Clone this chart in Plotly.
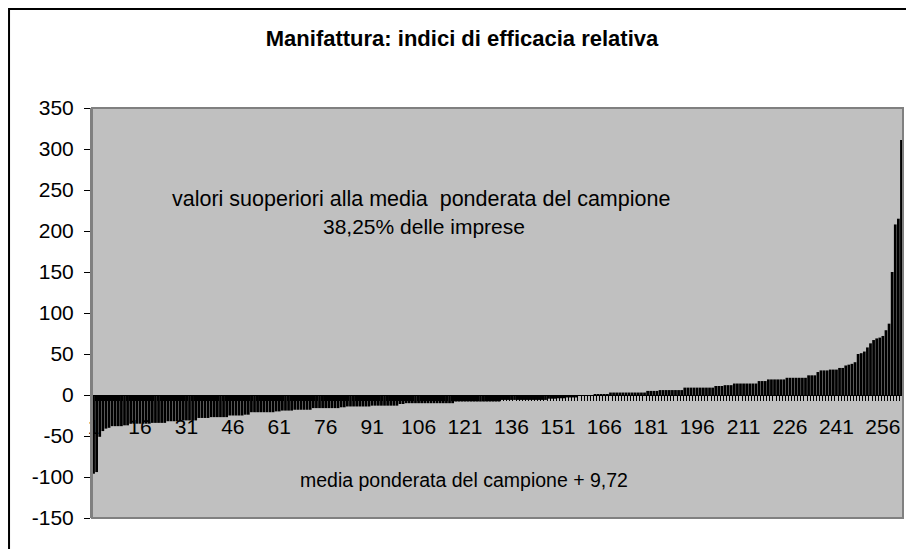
import plotly.graph_objects as go

# Indici di efficacia relativa, imprese ordinate in modo crescente (262 imprese)
valori = [
    -96, -94, -51, -44, -41, -40, -38, -38, -38, -38, -37, -37,
    -35, -35, -35, -35, -35, -35, -35, -34, -34, -34, -34, -34,
    -32, -32, -32, -32, -32, -31, -31, -31, -31, -31,
    -28, -28, -28, -28, -27, -27, -27, -27, -27, -27,
    -25, -25, -25, -25, -25, -24, -24,
    -21, -21, -21, -21, -21, -21, -21, -21, -20, -20,
    -19, -19, -19, -19, -18, -18, -18, -18, -18, -18,
    -16, -16, -16, -16, -16, -16, -16, -16, -16, -15, -15,
    -14, -14, -14, -14, -14, -14, -14, -14, -13, -13, -13, -13, -13, -13, -13, -13, -13,
    -11, -11, -10, -10, -10, -10, -10, -10, -10, -10, -10, -10, -10, -10, -10, -10, -10, -10,
    -8, -8, -8, -8, -8, -8, -8, -8, -8, -8, -8, -8, -8, -8, -8,
    -6, -6, -6, -6, -6, -6, -6, -6, -6, -6, -6, -6, -6, -6, -6,
    -4.5, -4.5, -4.5, -4, -4, -4,
    -3, -3, -3, -3,
    -0.5, -0.4, -0.3, -0.2, -0.1, 0.1, 0.2, 0.3, 0.5, 0.8,
    3, 3, 3, 3, 3, 3, 3, 3, 3, 3, 3, 3,
    5, 5, 5, 5,
    6, 6, 6, 6, 6, 6, 6, 6,
    9, 9, 9, 9, 9, 9, 9, 9, 9, 9,
    11, 11, 11, 12, 12, 12,
    14, 14, 14, 14, 14, 14, 14, 14,
    17, 17, 17,
    19, 19, 19, 19, 19, 19,
    21, 21, 21, 21, 21, 21, 21,
    24, 24, 24,
    28,
    30, 30, 30, 31, 31, 31,
    33, 33,
    36, 37, 38, 40, 50, 51, 53, 58, 63, 67, 69, 70, 72, 79, 87,
    150, 208, 215, 311,
]
imprese = list(range(1, len(valori) + 1))

y_tick_vals = [-150, -100, -50, 0, 50, 100, 150, 200, 250, 300, 350]
y_tick_text = ["-150", "-100", "-50", "0", "50", "100", "150", "200", "250", "300", "350"]

titolo = "Manifattura: indici di efficacia relativa"
nota_sopra_1 = "valori suoperiori alla media  ponderata del campione"
nota_sopra_2 = "38,25% delle imprese"
nota_sotto = "media ponderata del campione + 9,72"

FONT = "Liberation Sans, Arial, sans-serif"

fig = go.Figure()

fig.add_trace(go.Bar(
    x=imprese, y=valori,
    marker=dict(color="black", line=dict(width=0)),
    showlegend=False,
))

# annotazioni nel grafico
fig.add_annotation(x=0.406, y=239, xref="paper", yref="y", text=nota_sopra_1,
                   showarrow=False, font=dict(size=21.5, color="black", family=FONT))
fig.add_annotation(x=0.409, y=206, xref="paper", yref="y", text=nota_sopra_2,
                   showarrow=False, font=dict(size=21, color="black", family=FONT))
fig.add_annotation(x=0.459, y=-104, xref="paper", yref="y", text=nota_sotto,
                   showarrow=False, font=dict(size=19.5, color="black", family=FONT))

# bordo area del grafico e cornice esterna
fig.add_shape(type="rect", xref="paper", yref="paper", x0=0, x1=1, y0=0, y1=1,
              line=dict(color="#808080", width=2), layer="above")
fig.add_shape(type="rect", xref="paper", yref="paper", x0=-0.1023, x1=1.05, y0=-0.15, y1=1.2415,
              line=dict(color="black", width=2), layer="above")

# la pagina ha un margine di 8 px: figura più piccola per stare nella finestra
fig.update_layout(
    width=898, height=541,
    margin=dict(l=84, r=3, t=100, b=31),
    paper_bgcolor="white",
    plot_bgcolor="#C0C0C0",
    bargap=0.12,
    font=dict(family=FONT, color="black"),
    title=dict(text="<b>" + titolo + "</b>", x=0.5056, xanchor="center",
               y=0.9445, yanchor="middle", yref="container",
               font=dict(size=22, color="black", family=FONT)),
    xaxis=dict(
        range=[0.5, len(valori) + 0.5],
        anchor="free", position=0.3,
        tick0=1, dtick=15, ticks="",
        showline=True, linecolor="black", linewidth=1,
        showgrid=False, zeroline=False,
        layer="below traces",
        ticklabelstandoff=13,
        tickfont=dict(size=21, color="black", family=FONT),
        minor=dict(ticks="outside", ticklen=5, tick0=0.5, dtick=1,
                   tickcolor="black", showgrid=False),
    ),
    yaxis=dict(
        range=[-150, 350],
        tickmode="array", tickvals=y_tick_vals, ticktext=y_tick_text,
        ticks="outside", ticklen=6, tickcolor="black",
        showline=True, linecolor="#808080", linewidth=2,
        showgrid=False, zeroline=False,
        ticklabelstandoff=6,
        tickfont=dict(size=21, color="black", family=FONT),
    ),
)

fig.write_html("out.html")
